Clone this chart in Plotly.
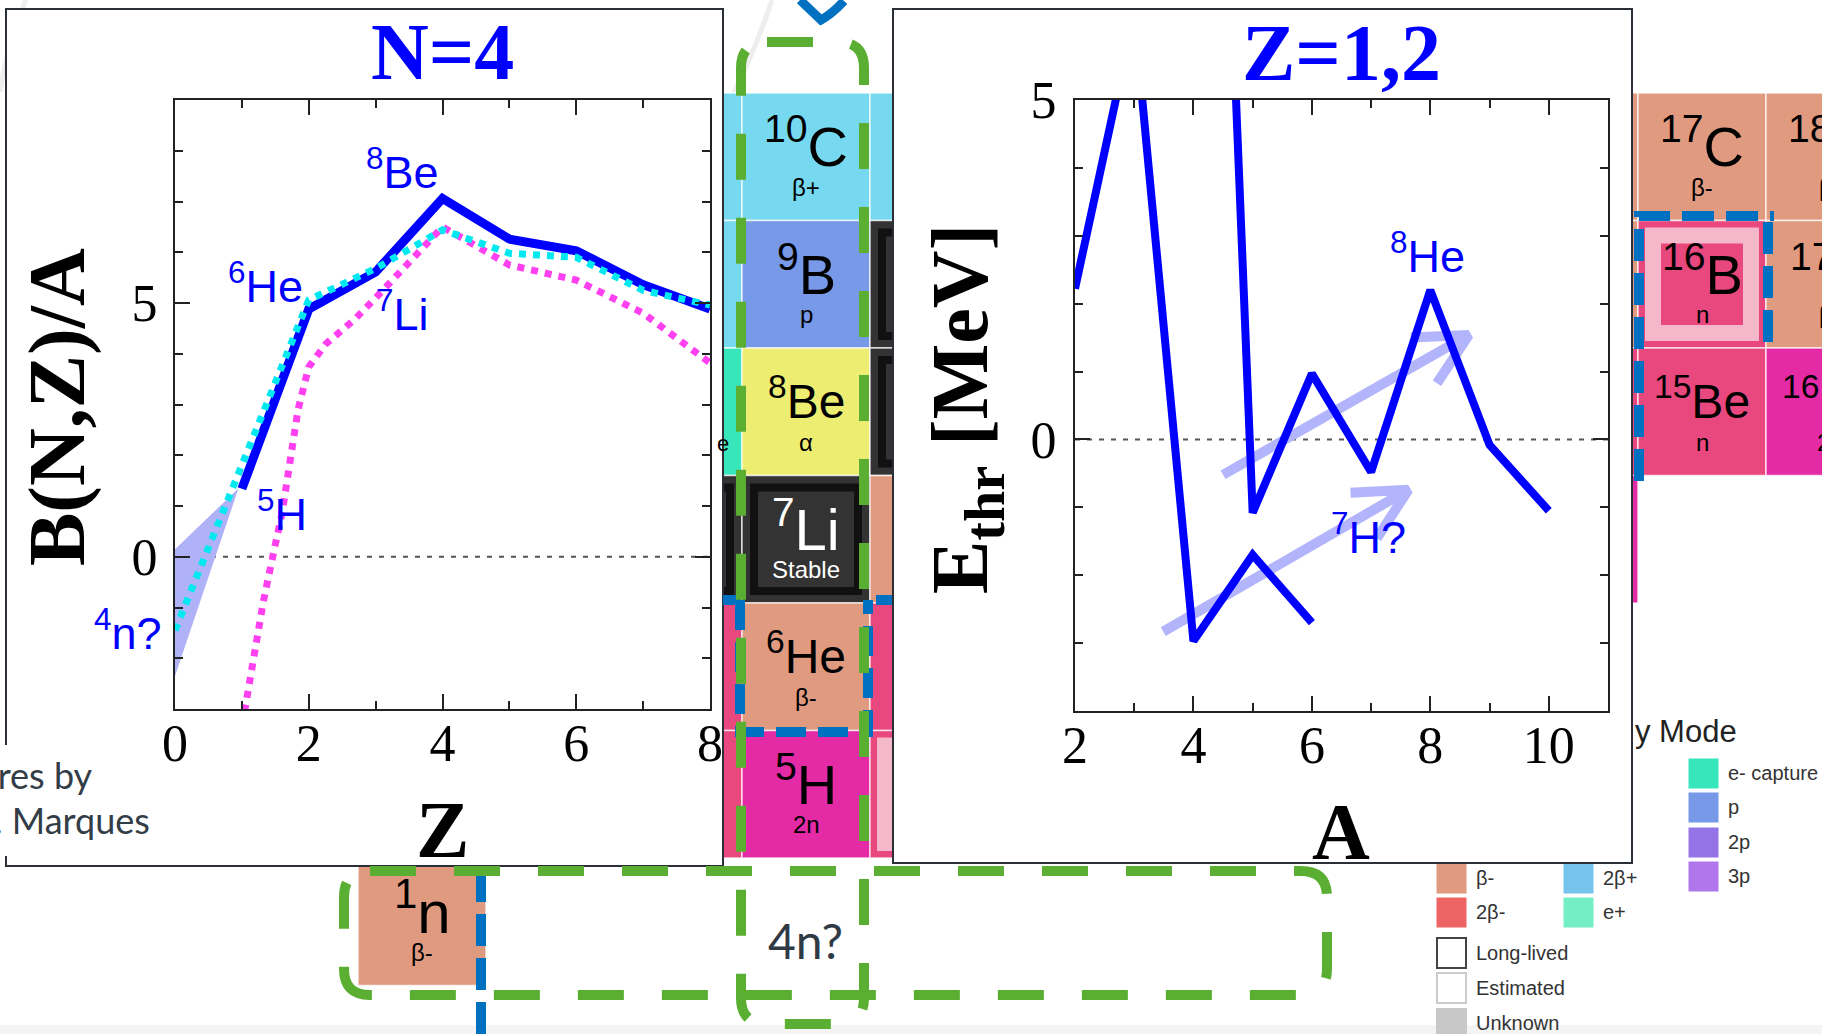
import math
import plotly.graph_objects as go

W, H = 1822, 1034

# ------------------------------------------------------------------ data
# Left panel (N=4): B(N,Z)/A versus Z
z_exp = [1, 2, 3, 4, 5, 6, 7, 8]
ba_exp = [1.34, 4.88, 5.61, 7.06, 6.26, 6.03, 5.36, 4.88]
z_cyan = [0, 1, 2, 3, 4, 5, 6, 7, 8]
ba_cyan = [-1.45, 1.8, 5.06, 5.68, 6.44, 5.98, 5.9, 5.25, 4.96]
z_mag = [1.04, 1.18, 1.32, 1.49, 1.6, 1.84, 2.0, 2.26, 2.68, 3.0, 4, 5, 6, 7, 8]
ba_mag = [-3.05, -1.97, -0.89, 0.18, 0.85, 2.9, 3.74, 4.2, 4.67, 5.1, 6.5, 5.75, 5.45, 4.8, 3.82]
z_band = [0, 0.95, 0, 0]
ba_band = [0.15, 1.35, -2.35, 0.15]
left_labels = ["<sup>8</sup>Be", "<sup>6</sup>He", "<sup>7</sup>Li", "<sup>5</sup>H"]
left_label_z = [3.4, 1.35, 3.4, 1.6]
left_label_b = [7.65, 5.4, 4.85, 0.9]

# Right panel (Z=1,2): E_thr versus A
a_h = [2, 3, 4, 5, 6]
e_h = [2.22, 6.26, -2.97, -1.7, -2.7]
a_he = [4, 5, 6, 7, 8, 9, 10]
e_he = [20.58, -1.08, 0.97, -0.48, 2.2, -0.08, -1.05]
arrow_tails = [(4.5, -0.52), (3.49, -2.83)]
arrow_heads = [(8.65, 1.54), (7.63, -0.74)]
right_labels = ["<sup>8</sup>He", "<sup>7</sup>H?"]
right_label_a = [7.95, 6.95]
right_label_e = [2.75, -1.4]

# Nuclide chart cells: (Z, N, mass number, symbol, decay label, mode)
cells = [
    (6, 3, "", "", "", "beta+"), (6, 4, "10", "C", "β+", "beta+"), (6, 5, "", "", "", "beta+"),
    (5, 3, "", "", "", "beta+"), (5, 4, "9", "B", "p", "p"), (5, 5, "", "", "", "stable"),
    (4, 3, "", "", "", "ec"), (4, 4, "8", "Be", "α", "alpha"), (4, 5, "", "", "", "stable"),
    (3, 3, "", "", "", "stable"), (3, 4, "7", "Li", "Stable", "stable"), (3, 5, "", "", "", "beta-"),
    (2, 3, "", "", "", "n"), (2, 4, "6", "He", "β-", "beta-"), (2, 5, "", "", "", "n"),
    (1, 3, "", "", "", "n"), (1, 4, "5", "H", "2n", "2n"), (1, 5, "", "", "", "est"),
    (0, 1, "1", "n", "β-", "beta-"),
    (6, 10, "", "", "", "beta-"), (5, 10, "", "", "", "beta-"), (4, 10, "", "", "", "n"), (3, 10, "", "", "", "2n"),
    (6, 11, "17", "C", "β-", "beta-"), (6, 12, "18", "C", "β-", "beta-"),
    (5, 11, "16", "B", "n", "est"), (5, 12, "17", "B", "β-", "beta-"),
    (4, 11, "15", "Be", "n", "n"), (4, 12, "16", "Be", "2n", "2n"),
]
legend_items = [
    ("β-", "beta-"), ("2β-", "2beta-"), ("2β+", "2beta+"), ("e+", "e+"),
    ("e- capture", "ec"), ("p", "p"), ("2p", "2p"), ("3p", "3p"),
]
status_items = ["Long-lived", "Estimated", "Unknown"]

# ------------------------------------------------------------------ styles
SERIF = "Liberation Serif"
SANS = "Liberation Sans"
BLUE = "#0000ff"
mode_colors = {
    "beta+": "#76d9ef", "p": "#7799e8", "alpha": "#eded72", "stable": "#333333",
    "beta-": "#e09a80", "n": "#e8487d", "2n": "#e52aa6", "ec": "#38e6bc", "est": "#e8487d",
    "2beta-": "#ee6464", "2beta+": "#74c4ee", "e+": "#74eec4", "2p": "#9473e6", "3p": "#b077ec",
}
LIGHT_PINK = "#f5b8cb"
GREEN = "#5aaf32"
DBLUE = "#0070c0"


def px(x):
    return x / W


def py(y):
    return 1 - y / H


shapes = []
annotations = []


def rect(x0, y0, x1, y1, fill=None, lc=None, lw=0, dash=None):
    line = dict(color=lc or "rgba(0,0,0,0)", width=lw)
    if dash:
        line["dash"] = dash
    shapes.append(dict(type="rect", xref="paper", yref="paper", layer="below",
                       x0=px(x0), x1=px(x1), y0=py(y1), y1=py(y0),
                       fillcolor=fill or "rgba(0,0,0,0)", line=line))


def path(cmds, lc, lw, dash=None):
    parts = []
    for c in cmds:
        op, vals = c[0], c[1:]
        coords = []
        for i in range(0, len(vals), 2):
            coords.append(f"{px(vals[i]):.5f},{py(vals[i + 1]):.5f}")
        parts.append(op + " ".join(coords))
    line = dict(color=lc, width=lw)
    if dash:
        line["dash"] = dash
    shapes.append(dict(type="path", xref="paper", yref="paper", layer="below",
                       path=" ".join(parts), line=line))


def rounded(x0, y0, x1, y1, r):
    return [("M", x0 + r, y0), ("L", x1 - r, y0), ("Q", x1, y0, x1, y0 + r),
            ("L", x1, y1 - r), ("Q", x1, y1, x1 - r, y1), ("L", x0 + r, y1),
            ("Q", x0, y1, x0, y1 - r), ("L", x0, y0 + r), ("Q", x0, y0, x0 + r, y0)]


def ann(x, y, text, size, color="black", family=SANS, xanchor="center",
        yanchor="middle", angle=0, bg=None):
    a = dict(xref="paper", yref="paper", x=px(x), y=py(y), text=text, showarrow=False,
             font=dict(family=family, size=size, color=color),
             xanchor=xanchor, yanchor=yanchor, textangle=angle)
    if bg:
        a["bgcolor"] = bg
    annotations.append(a)


# ------------------------------------------------------------------ background
rect(0, 1025, W, H, fill="#f4f4f4")
path([("M", 0, 92), ("Q", 8, 40, 26, 0)], "#eeeeee", 5)
path([("M", 724, 112), ("Q", 752, 60, 772, 0)], "#eeeeee", 5)

CX0, CW, CY0, CH = 742, 128, 93, 127.5
sym_size = {"C": 56, "B": 56, "H": 56, "n": 60, "Be": 48, "He": 48, "Li": 58}
for (Z, N, mass, sym, sub, mode) in cells:
    x0 = CX0 + (N - 4) * CW
    y0 = CY0 + (6 - Z) * CH
    x1, y1 = x0 + CW, y0 + CH
    rect(x0, y0, x1, y1, fill=mode_colors[mode], lc="rgba(255,255,255,0.75)", lw=1.5)
    if mode == "stable":
        rect(x0 + 12, y0 + 12, x1 - 12, y1 - 12, lc="#111111", lw=8)
    if mode == "est":
        rect(x0 + 7, y0 + 7, x1 - 7, y1 - 7, fill=LIGHT_PINK)
        rect(x0 + 23, y0 + 23, x1 - 23, y1 - 23, fill=mode_colors["n"])
    if sym:
        col = "white" if mode == "stable" else "black"
        ann((x0 + x1) / 2, y0 + 0.39 * CH, f"<sup>{mass}</sup>{sym}", sym_size[sym], col)
        ann((x0 + x1) / 2, y0 + 0.74 * CH, sub, 24, col)
ann(731, 443, "e", 22, xanchor="right")

# legend of the nuclide chart
leg_pos = {"beta-": (1436, 863), "2beta-": (1436, 897), "2beta+": (1563, 863), "e+": (1563, 897),
           "ec": (1688, 758), "p": (1688, 792), "2p": (1688, 827), "3p": (1688, 861)}
for label, mode in legend_items:
    lx, ly = leg_pos[mode]
    rect(lx, ly, lx + 31, ly + 31, fill=mode_colors[mode], lc="white", lw=1)
    ann(lx + 38, ly + 15, label, 20, "#333333", xanchor="left")
for i, label in enumerate(status_items):
    ly = 938 + i * 35
    if label == "Long-lived":
        rect(1437, ly, 1466, ly + 30, fill="white", lc="#444444", lw=2)
    elif label == "Estimated":
        rect(1437, ly, 1466, ly + 30, fill="white", lc="#cccccc", lw=2)
    else:
        rect(1436, ly, 1467, ly + 40, fill="#c8c8c8")
    ann(1474, ly + 15, label, 20, "#333333", xanchor="left")
ann(1633, 731, "y Mode", 31, "#222222", xanchor="left")

# white panels
rect(6, 9, 723, 866, fill="white")
rect(893, 9, 1632, 863, fill="white", lc="#2b3038", lw=2)
path([("M", 6, 745), ("L", 6, 9), ("L", 723, 9), ("L", 723, 866), ("L", 6, 866), ("L", 6, 856)],
     "#2b3038", 2)

# blue dashed outlines
path([("M", 740, 600), ("L", 740, 732), ("L", 868, 732), ("L", 868, 600)], DBLUE, 10, "30px,12px")
path([("M", 723, 600), ("L", 741, 600)], DBLUE, 10)
path([("M", 876, 600), ("L", 892, 600)], DBLUE, 10)
path([("M", 481, 870), ("L", 481, 1034)], DBLUE, 10, "32px,12px")
path([("M", 1639, 481), ("L", 1639, 216), ("L", 1774, 216)], DBLUE, 10, "32px,12px")
path([("M", 1768, 222), ("L", 1768, 345)], DBLUE, 10, "32px,12px")
path([("M", 800, 0), ("L", 821, 20), ("Q", 832, 14, 844, 1)], DBLUE, 9)

# green dashed rounded boxes
path(rounded(741, 42, 864, 1024, 26), GREEN, 10, "46px,38px")
path(rounded(344, 871, 1327, 995, 26), GREEN, 10, "46px,38px")

# ------------------------------------------------------------------ plots
fig = go.Figure()

fig.add_trace(go.Scatter(x=z_band, y=ba_band, fill="toself", mode="lines",
                         fillcolor="#b0b2f8", line=dict(width=0), xaxis="x", yaxis="y"))
fig.add_trace(go.Scatter(x=z_mag, y=ba_mag, mode="lines", xaxis="x", yaxis="y",
                         line=dict(color="#ff40f0", width=7, dash="7px,7px")))
fig.add_trace(go.Scatter(x=z_exp, y=ba_exp, mode="lines", xaxis="x", yaxis="y",
                         line=dict(color=BLUE, width=9)))
fig.add_trace(go.Scatter(x=z_cyan, y=ba_cyan, mode="lines", xaxis="x", yaxis="y",
                         line=dict(color="#00e8f0", width=7, dash="7px,7px")))

SX = (1608 - 1075) / 9.0
SY = (711 - 100) / 9.0
for tail, head in zip(arrow_tails, arrow_heads):
    dx = (head[0] - tail[0]) * SX
    dy = (head[1] - tail[1]) * SY
    L = math.hypot(dx, dy)
    ux, uy = dx / L, dy / L
    arms = []
    for s in (1, -1):
        ang = math.radians(180 + s * 27)
        rx = ux * math.cos(ang) - uy * math.sin(ang)
        ry = ux * math.sin(ang) + uy * math.cos(ang)
        arms.append((head[0] + rx * 58 / SX, head[1] + ry * 58 / SY))
    fig.add_trace(go.Scatter(
        x=[tail[0], head[0], None, arms[0][0], head[0], arms[1][0]],
        y=[tail[1], head[1], None, arms[0][1], head[1], arms[1][1]],
        mode="lines", xaxis="x2", yaxis="y2",
        line=dict(color="#b3b5fc", width=10)))

fig.add_trace(go.Scatter(x=a_h, y=e_h, mode="lines", xaxis="x2", yaxis="y2",
                         line=dict(color=BLUE, width=8)))
fig.add_trace(go.Scatter(x=a_he, y=e_he, mode="lines", xaxis="x2", yaxis="y2",
                         line=dict(color=BLUE, width=8)))

for ax, ay in (("x", "y"), ("x2", "y2")):
    shapes.append(dict(type="line", xref=f"{ax} domain", yref=ay, x0=0, x1=1, y0=0, y1=0,
                       layer="below", line=dict(color="#555555", width=2, dash="5px,7px")))

for t, zx, by in zip(left_labels, left_label_z, left_label_b):
    annotations.append(dict(xref="x", yref="y", x=zx, y=by, text=t, showarrow=False,
                            font=dict(family=SANS, size=45, color=BLUE)))
for t, ax_, ey in zip(right_labels, right_label_a, right_label_e):
    annotations.append(dict(xref="x2", yref="y2", x=ax_, y=ey, text=t, showarrow=False,
                            font=dict(family=SANS, size=45, color=BLUE)))
ann(128, 630, "<sup>4</sup>n?", 45, BLUE)

# titles
ann(442, 52, "<b>N=4</b>", 80, BLUE, SERIF)
ann(1341, 53, "<b>Z=1,2</b>", 80, BLUE, SERIF)
ann(58, 407, "<b>B(N,Z)/A</b>", 80, "black", SERIF, angle=-90)
ann(966, 409, "<b>E<sub>thr</sub> [MeV]</b>", 80, "black", SERIF, angle=-90)
ann(442, 830, "<b>Z</b>", 80, "black", SERIF)
ann(1341, 832, "<b>A</b>", 80, "black", SERIF)

# side texts
ann(95, 775, "Figures by", 36, "#333d47", "Lato", xanchor="right")
ann(152, 820, "F. M. Marques", 36, "#333d47", "Lato", xanchor="right")
ann(805, 940, "4n?", 48, "#2f3a45", "Lato")


def axis(domain, rng, dtick, standoff):
    return dict(domain=domain, range=rng, dtick=dtick, tick0=0, tickmode="linear",
                showline=True, linecolor="#222222", linewidth=2, mirror="allticks",
                ticks="inside", ticklen=15, tickwidth=2, tickcolor="#222222",
                tickfont=dict(family=SERIF, size=52, color="black"),
                minor=dict(dtick=1, tick0=0, ticks="inside", ticklen=8,
                           tickwidth=2, tickcolor="#222222"),
                showgrid=False, zeroline=False, ticklabelstandoff=standoff)


xa = axis([175 / W, 710 / W], [0, 8], 2, -12)
ya = axis([1 - 709 / H, 1 - 100 / H], [-3, 9], 5, 5)
xa2 = axis([1075 / W, 1608 / W], [2, 11], 2, -12)
ya2 = axis([1 - 711 / H, 1 - 100 / H], [-4, 5], 5, 6)
xa2["anchor"] = "y2"
ya2["anchor"] = "x2"
xa["anchor"] = "y"
ya["anchor"] = "x"

fig.update_layout(
    width=W, height=H, margin=dict(l=0, r=0, t=0, b=0, pad=0, autoexpand=False),
    paper_bgcolor="white", plot_bgcolor="rgba(0,0,0,0)",
    showlegend=False,
    xaxis=xa, yaxis=ya, xaxis2=xa2, yaxis2=ya2,
    shapes=shapes, annotations=annotations,
)

fig.write_html("out.html")
